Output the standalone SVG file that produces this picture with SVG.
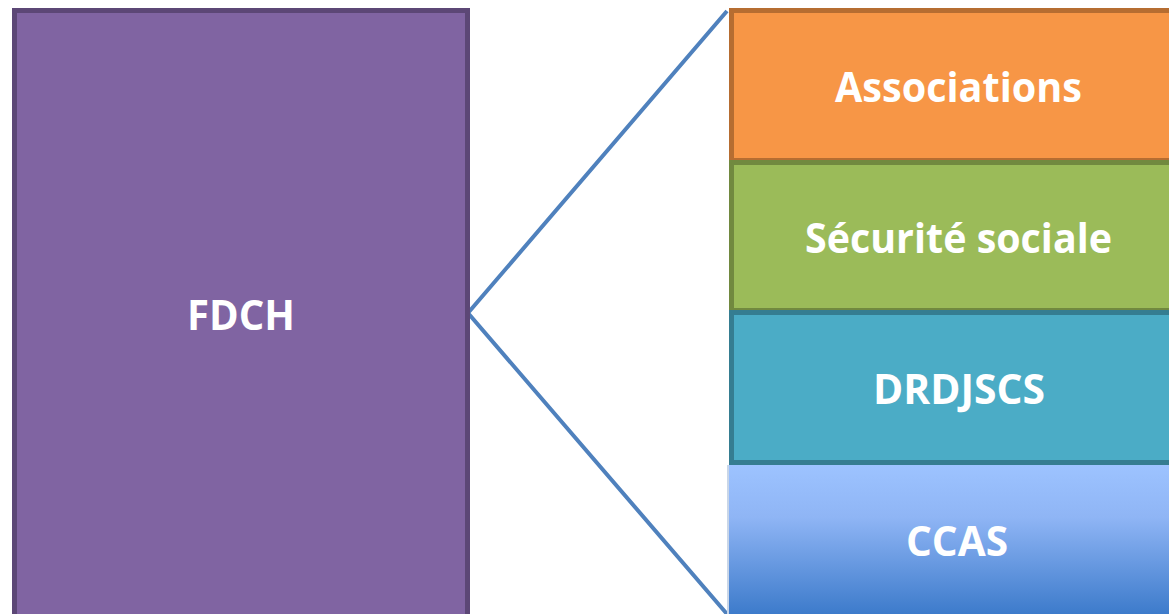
<svg xmlns="http://www.w3.org/2000/svg" width="1169" height="614" viewBox="0 0 1169 614">
<style>
.lbl{font-family:"Open Sans","Liberation Sans",sans-serif;font-weight:bold;font-size:42px;fill:#ffffff;text-anchor:middle}
.conn{fill:none;stroke:#4f81bd;stroke-width:4;stroke-linejoin:miter}
</style>
<defs>
<linearGradient id="gccas" x1="0" y1="0" x2="0" y2="1">
<stop offset="0" stop-color="#9dc3ff"/>
<stop offset="0.35" stop-color="#8fb5f5"/>
<stop offset="1" stop-color="#3d7bcb"/>
</linearGradient>
</defs>
<rect width="1169" height="614" fill="#ffffff"/>
<g id="connectors">
<polyline class="conn" points="727,11 468,313 727,614"/>
</g>
<g id="fdch">
<rect x="14.5" y="10.5" width="453" height="606" fill="#8064a2" stroke="#5c4776" stroke-width="5"/>
<text class="lbl" x="241" y="330" textLength="108" lengthAdjust="spacingAndGlyphs">FDCH</text>
</g>
<g id="associations">
<rect x="731.5" y="10.5" width="460" height="150" fill="#f79646" stroke="#b66d31" stroke-width="5"/>
<text class="lbl" x="958.5" y="102" textLength="247" lengthAdjust="spacingAndGlyphs">Associations</text>
</g>
<g id="securite">
<rect x="731.5" y="162.5" width="460" height="148" fill="#9bbb59" stroke="#71893f" stroke-width="5"/>
<text class="lbl" x="958.5" y="253" textLength="307" lengthAdjust="spacingAndGlyphs">Sécurité sociale</text>
</g>
<g id="drdjscs">
<rect x="731.5" y="312.5" width="460" height="150" fill="#4bacc6" stroke="#357d91" stroke-width="5"/>
<text class="lbl" x="959" y="404" textLength="172" lengthAdjust="spacingAndGlyphs">DRDJSCS</text>
</g>
<g id="ccas">
<rect x="727" y="465" width="4" height="149" fill="#c9d6e8"/>
<rect x="729" y="465" width="460" height="149" fill="url(#gccas)"/>
<text class="lbl" x="957" y="556" textLength="102" lengthAdjust="spacingAndGlyphs">CCAS</text>
</g>
</svg>
